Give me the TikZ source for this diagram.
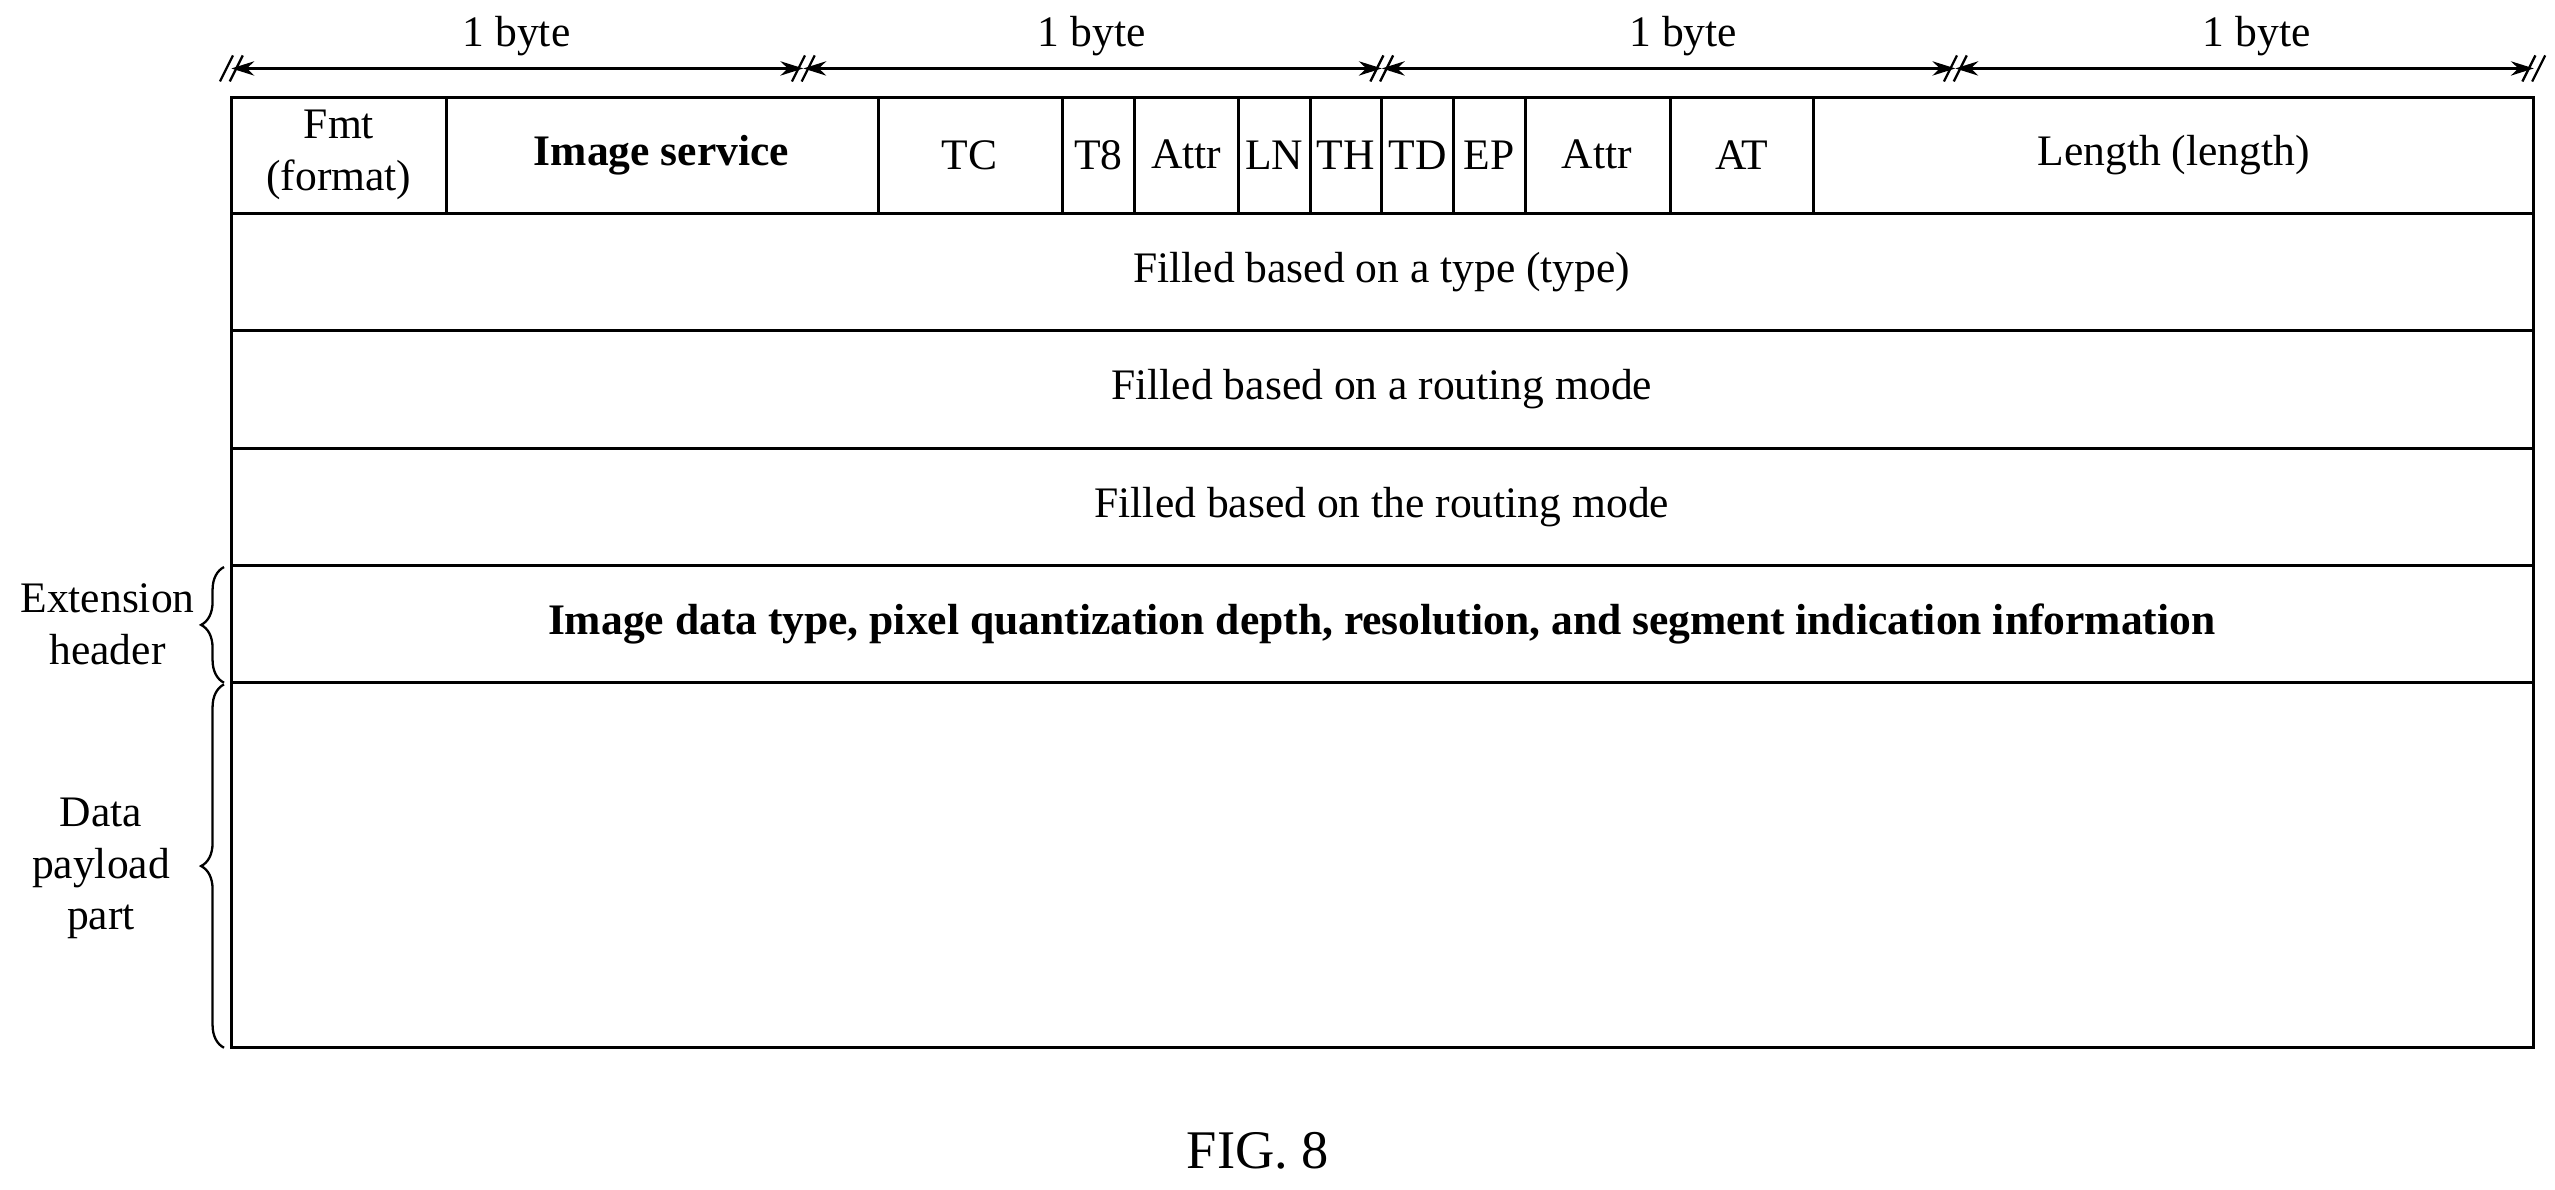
\documentclass[tikz,border=0pt]{standalone}
\usepackage{fontspec}
\setmainfont{Liberation Serif}
\usetikzlibrary{decorations.pathreplacing,arrows.meta}
\begin{document}
\begin{tikzpicture}[x=0.01cm,y=-0.01cm,font=\fontsize{7.6}{9}\selectfont,line width=0.5pt]

\tikzstyle{lbl} = [inner sep=1,align=center]
\tikzstyle{tick} = [line width=0.4pt]

\useasboundingbox (0,0) rectangle (1568,730);

% byte ruler
\coordinate (r0) at (142,42);
\coordinate (r1) at (493,42);
\coordinate (r2) at (848,42);
\coordinate (r3) at (1200,42);
\coordinate (r4) at (1555,42);
\foreach \a/\b in {r0/r1,r1/r2,r2/r3,r3/r4}
  \draw [{Stealth[length=4pt,width=2.5pt]}-{Stealth[length=4pt,width=2.5pt]},line width=0.4pt] (\a) -- (\b);
\foreach \p in {r0,r1,r2,r3,r4} {
  \draw [tick] ([shift={(-7,8)}]\p) -- ([shift={(1,-8)}]\p);
  \draw [tick] ([shift={(-1,8)}]\p) -- ([shift={(7,-8)}]\p);
}
\node (b1) at (317,22) {1 byte};
\node (b2) at (670,22) {1 byte};
\node (b3) at (1033,22) {1 byte};
\node (b4) at (1385,22) {1 byte};

% header row
\draw (142,60) rectangle (1555,131);
\foreach \x in {274,539,652,696,760,804,848,892,936,1025,1113}
  \draw (\x,60) -- (\x,131);
\node [lbl] (fmt) at (208,95) {Fmt\\(format)};
\node [lbl] (svc) at (406,95) {\textbf{Image service}};
\node [lbl] (tc) at (595,95) {TC};
\node [lbl] (t8) at (674,95) {T8};
\node [lbl] (at1) at (728,95) {Attr};
\node [lbl] (ln) at (782,95) {LN};
\node [lbl] (th) at (826,95) {TH};
\node [lbl] (td) at (870,95) {TD};
\node [lbl] (ep) at (914,95) {EP};
\node [lbl] (at2) at (980,95) {Attr};
\node [lbl] (at) at (1069,95) {AT};
\node [lbl] (len) at (1334,95) {Length (length)};

% lower rows
\draw (142,131) rectangle (1555,203);
\draw (142,203) rectangle (1555,275);
\draw (142,275) rectangle (1555,347);
\draw (142,347) rectangle (1555,419);
\draw (142,419) rectangle (1555,643);
\node [lbl] (type) at (848,167) {Filled based on a type (type)};
\node [lbl] (rt1) at (848,239) {Filled based on a routing mode};
\node [lbl] (rt2) at (848,311) {Filled based on the routing mode};
\node [lbl] (ext) at (848,383) {\textbf{Image data type, pixel quantization depth, resolution, and segment indication information}};

% side braces
\draw [decorate,decoration={brace,amplitude=4pt,raise=1pt},line width=0.4pt] (141,419) -- (141,348);
\draw [decorate,decoration={brace,amplitude=4pt,raise=1pt},line width=0.4pt] (141,643) -- (141,420);
\node [lbl] (exthdr) at (66,383) {Extension\\header};
\node [lbl] (payload) at (62,533) {Data\\payload\\part};

\node (fig) at (772,706) {\fontsize{9.5}{11}\selectfont FIG. 8};
\end{tikzpicture}
\end{document}
